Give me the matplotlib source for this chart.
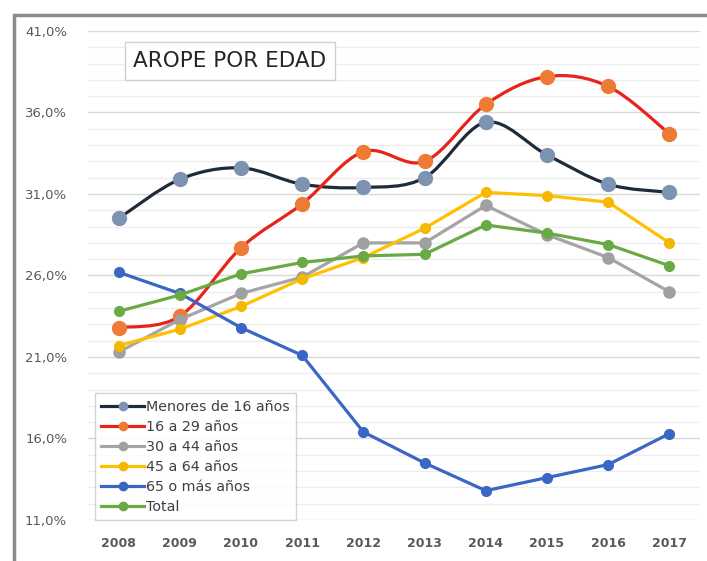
import numpy as np
import matplotlib
matplotlib.use("Agg")
import matplotlib.pyplot as plt
from matplotlib.path import Path
from matplotlib.patches import PathPatch, Rectangle
from matplotlib.lines import Line2D
from matplotlib.ticker import FuncFormatter, FixedLocator, MultipleLocator

years = [2008, 2009, 2010, 2011, 2012, 2013, 2014, 2015, 2016, 2017]

menores_16 = [29.5, 31.9, 32.6, 31.6, 31.4, 32.0, 35.4, 33.4, 31.6, 31.1]
de_16_a_29 = [22.8, 23.5, 27.7, 30.4, 33.6, 33.0, 36.5, 38.2, 37.6, 34.7]
de_30_a_44 = [21.3, 23.3, 24.9, 25.9, 28.0, 28.0, 30.3, 28.5, 27.1, 25.0]
de_45_a_64 = [21.7, 22.7, 24.1, 25.8, 27.1, 28.9, 31.1, 30.9, 30.5, 28.0]
mas_65 = [26.2, 24.9, 22.8, 21.1, 16.4, 14.5, 12.8, 13.6, 14.4, 16.3]
total = [23.8, 24.8, 26.1, 26.8, 27.2, 27.3, 29.1, 28.6, 27.9, 26.6]

labels = ["Menores de 16 años", "16 a 29 años", "30 a 44 años",
          "45 a 64 años", "65 o más años", "Total"]
y_ticks = [11, 16, 21, 26, 31, 36, 41]

# (serie, color línea, color marcador, tamaño marcador, suavizada)
series = [
    (menores_16, "#1F2A3A", "#7D93B2", 10, True),
    (de_16_a_29, "#E8231C", "#EE7B35", 10, True),
    (de_30_a_44, "#A5A5A5", "#A0A0A0", 8, False),
    (de_45_a_64, "#FFC000", "#F5B800", 7, False),
    (mas_65, "#3A66C4", "#3A66C4", 7, False),
    (total, "#6AAA45", "#6AAA45", 7, False),
]


def smooth_path(xs, ys):
    # curva tipo Excel (Bezier cúbica entre puntos)
    pts = np.column_stack([xs, ys]).astype(float)
    n = len(pts)
    verts = [pts[0]]
    codes = [Path.MOVETO]
    for i in range(n - 1):
        p0 = pts[i - 1] if i > 0 else pts[i]
        p1 = pts[i]
        p2 = pts[i + 1]
        p3 = pts[i + 2] if i + 2 < n else pts[i + 1]
        c1 = p1 + (p2 - p0) / 6.0
        c2 = p2 - (p3 - p1) / 6.0
        verts += [c1, c2, p2]
        codes += [Path.CURVE4] * 3
    return Path(verts, codes)


fig = plt.figure(figsize=(7.07, 5.61), dpi=100)
fig.patch.set_facecolor("white")
ax = fig.add_axes([88 / 707, 1 - 520 / 561, 612 / 707, 489 / 561])

# borde exterior gris
fig.patches.append(Rectangle((14 / 707, -0.1), 1.2, 1 - 15 / 561 + 0.1,
                             transform=fig.transFigure, fill=False,
                             edgecolor="#8C8C8C", linewidth=2.5))

ax.set_xlim(2007.5, 2017.5)
ax.set_ylim(11, 41)
ax.yaxis.set_major_locator(FixedLocator(y_ticks))
ax.yaxis.set_minor_locator(MultipleLocator(1))
ax.set_xticks(years)
ax.yaxis.set_major_formatter(FuncFormatter(lambda v, p: f"{v:.1f}%".replace(".", ",")))
ax.grid(axis="y", which="minor", color="#EDEDED", linewidth=1.0, zorder=0)
ax.grid(axis="y", which="major", color="#D9D9D9", linewidth=1.0, zorder=0)
ax.tick_params(axis="both", which="both", length=0)
ax.tick_params(axis="y", labelsize=9.5, labelcolor="#595959", pad=15)
ax.tick_params(axis="x", labelsize=9, labelcolor="#595959", pad=12)
for lab in ax.get_xticklabels():
    lab.set_fontweight("bold")
for s in ax.spines.values():
    s.set_visible(False)

handles = []
for k, (vals, lc, mc, ms, smooth) in enumerate(series):
    z = 3 + k
    if smooth:
        ax.add_patch(PathPatch(smooth_path(years, vals), fill=False,
                               edgecolor=lc, linewidth=2.3, zorder=z,
                               capstyle="round", joinstyle="round"))
    else:
        ax.plot(years, vals, color=lc, linewidth=2.3, zorder=z,
                solid_joinstyle="round")
    ax.plot(years, vals, linestyle="none", marker="o", markersize=ms,
            markerfacecolor=mc, markeredgecolor=mc, zorder=z + 0.5)
    handles.append(Line2D([], [], color=lc, linewidth=2.3, marker="o",
                          markersize=6, markerfacecolor=mc,
                          markeredgecolor=mc))

leg = ax.legend(handles, labels, loc="lower left", bbox_to_anchor=(0.011, 0.0),
                fontsize=10.3, frameon=True, fancybox=False, handlelength=3.0,
                handletextpad=0.1, labelspacing=0.42, borderpad=0.45,
                borderaxespad=0.0)
leg.get_frame().set_edgecolor("#C8C8C8")
leg.get_frame().set_linewidth(1.0)
for t in leg.get_texts():
    t.set_color("#404040")

ax.text((230 - 88) / 612, (520 - 61) / 489, "AROPE POR EDAD",
        transform=ax.transAxes, ha="center", va="center", fontsize=15.5,
        color="#262626",
        bbox=dict(boxstyle="square,pad=0.4", facecolor="white",
                  edgecolor="#D0D0D0", linewidth=1.0), zorder=10)

fig.savefig("out.png", dpi=100)
